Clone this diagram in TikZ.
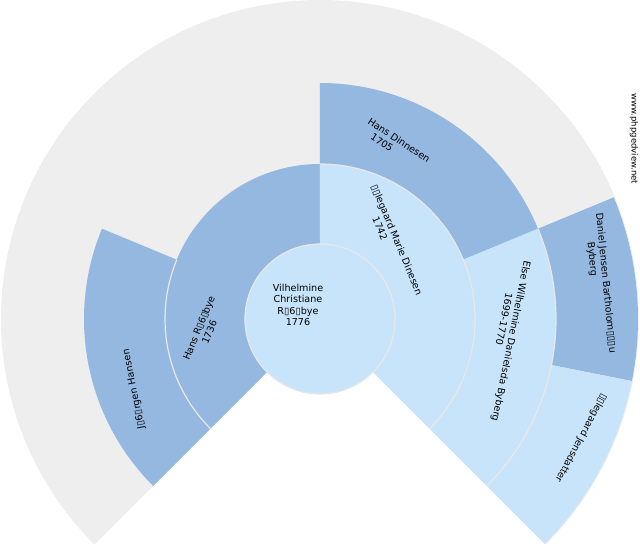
\documentclass[tikz,border=0pt]{standalone}
\usepackage{fontspec}
\setmainfont{DejaVu Sans}
\definecolor{bgfan}{HTML}{EEEEEE}
\definecolor{male}{HTML}{95B8E0}
\definecolor{female}{HTML}{C7E4FA}
\definecolor{sep}{HTML}{E8E8E8}
\newcommand{\fansector}[5]{% color, r1, r2, a1, a2
  \fill[#1] (#4:#2) arc[start angle=#4, end angle=#5, radius=#2] -- (#5:#3) arc[start angle=#5, end angle=#4, radius=#3] -- cycle;}
\newcommand{\innerarc}[3]{% r, a1, a2
  \draw[seprule] (#2:#1) arc[start angle=#2, end angle=#3, radius=#1];}
\tikzset{
  seprule/.style={draw=sep, line width=1.2pt},
  person/.style={font=\fontsize{9.6}{11.3}\selectfont, align=center, inner sep=0pt, text=black},
  urltext/.style={font=\fontsize{8.5}{10}\selectfont, inner sep=0pt, text=black}
}
\begin{document}
\begin{tikzpicture}[x=1pt,y=1pt]
\useasboundingbox (-320,-231) rectangle (320,319);
% background fan
\fill[bgfan] (0,0) -- (225:319pt) arc[start angle=225, end angle=-45, radius=319pt] -- cycle;
% ring 3
\fansector{male}{236pt}{318pt}{22.5}{-11.25}
\fansector{female}{236pt}{318pt}{-11.25}{-45}
% ring 2
\fansector{male}{155pt}{236pt}{225}{157.5}
\fansector{male}{155pt}{236pt}{90}{22.5}
\fansector{female}{155pt}{236pt}{22.5}{-45}
% ring 1
\fansector{male}{75pt}{155pt}{225}{90}
\fansector{female}{75pt}{155pt}{90}{-45}
% centre
\fill[female] (0,0) circle[radius=75pt];
% separators
\innerarc{236pt}{22.5}{-45}
\innerarc{155pt}{225}{157.5}
\innerarc{155pt}{90}{-45}
\draw[seprule] (0,0) circle[radius=75pt];
% texts
\node[person] (p1) at (-22,14) {Vilhelmine\\Christiane\\R▯6▯bye\\1776};
\node[person, rotate=67.5] (p2) at (-116,-11) {Hans R▯6▯bye\\1736};
\node[person, rotate=-67.5] (p3) at (72,77) {▯▯legaard Marie Dinesen\\1742\hspace*{34pt}};
\node[person, rotate=101.25] (p4) at (-186,-70) {J▯6▯rgen Hansen};
\node[person, rotate=-33.75] (p6) at (76,174) {Hans Dinnesen\\1705\hspace*{26pt}};
\node[person, rotate=-101.25] (p7) at (186,-21) {Else Wilhelmine Danielsda Byberg\\1699-1770\hspace*{40pt}};
\node[person, rotate=-84.4] (p14) at (280,35.5) {Daniel Jensen Bartholom▯▯▯u\\Byberg\hspace*{50pt}};
\node[person, rotate=-118.125] (p15) at (261,-119) {▯▯legaard Jensdatter};
\node[urltext, rotate=-90] (url) at (314,180) {www.phpgedview.net};
\end{tikzpicture}
\end{document}
